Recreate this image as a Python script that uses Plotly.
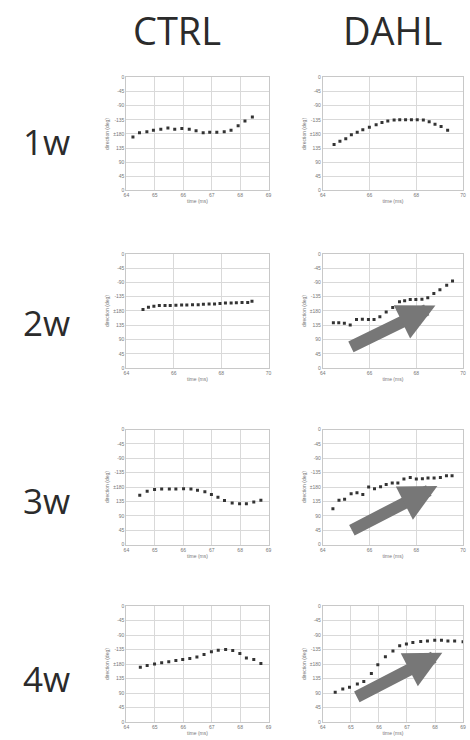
import plotly.graph_objects as go

# ---------------- data ----------------
groups = ["CTRL", "DAHL"]
weeks = ["1w", "2w", "3w", "4w"]

y_tickvals = [0, 45, 90, 135, 180, 225, 270, 315, 360]
y_ticktext = ["0", "45", "90", "135", "±180", "-135", "-90", "-45", "0"]

# 1w
ctrl_1w_t = [64.23, 64.46, 64.72, 64.95, 65.21, 65.46, 65.70, 65.95, 66.21, 66.45, 66.70, 66.93, 67.18, 67.44, 67.68, 67.93, 68.17, 68.43]
ctrl_1w_d = [170, 184, 187, 192, 195, 199, 195, 197, 195, 190, 184, 185, 185, 187, 192, 206, 221, 234]
dahl_1w_t = [64.48, 64.73, 64.98, 65.22, 65.47, 65.71, 65.99, 66.28, 66.53, 66.78, 67.05, 67.29, 67.54, 67.79, 68.04, 68.30, 68.55, 68.80, 69.06, 69.34]
dahl_1w_d = [146, 157, 165, 177, 185, 193, 201, 209, 216, 221, 224, 225, 225, 225, 225, 224, 219, 211, 204, 192]
# 2w
ctrl_2w_t = [64.70, 64.93, 65.16, 65.39, 65.63, 65.85, 66.09, 66.33, 66.55, 66.79, 67.03, 67.25, 67.49, 67.72, 67.95, 68.18, 68.42, 68.64, 68.88, 69.12, 69.30]
ctrl_2w_d = [185, 192, 195, 197, 197, 197, 198, 199, 199, 200, 200, 201, 202, 202, 204, 205, 205, 206, 207, 207, 211]
dahl_2w_t = [64.45, 64.68, 64.92, 65.17, 65.44, 65.69, 65.95, 66.19, 66.44, 66.71, 66.99, 67.28, 67.50, 67.74, 67.98, 68.24, 68.49, 68.75, 69.01, 69.30, 69.55]
dahl_2w_d = [143, 143, 141, 136, 153, 154, 153, 153, 162, 177, 191, 209, 212, 216, 216, 217, 222, 235, 247, 261, 275]
# 3w
ctrl_3w_t = [64.47, 64.73, 64.99, 65.24, 65.51, 65.74, 66.01, 66.27, 66.50, 66.76, 66.99, 67.22, 67.45, 67.72, 67.98, 68.22, 68.48, 68.73]
ctrl_3w_d = [154, 167, 172, 174, 174, 174, 175, 174, 170, 165, 157, 148, 138, 130, 128, 128, 133, 139]
dahl_3w_t = [64.43, 64.69, 64.93, 65.21, 65.46, 65.71, 65.96, 66.21, 66.47, 66.71, 66.97, 67.21, 67.47, 67.74, 68.00, 68.26, 68.50, 68.76, 69.03, 69.29, 69.53]
dahl_3w_d = [112, 139, 142, 159, 162, 157, 180, 175, 181, 188, 193, 193, 205, 210, 205, 206, 208, 208, 210, 215, 215]
# 4w
ctrl_4w_t = [64.49, 64.73, 64.99, 65.24, 65.49, 65.74, 65.98, 66.23, 66.48, 66.73, 66.99, 67.23, 67.49, 67.74, 67.99, 68.22, 68.48, 68.73]
ctrl_4w_d = [170, 176, 180, 184, 187, 191, 194, 197, 202, 210, 218, 223, 225, 222, 213, 199, 194, 182]
dahl_4w_t = [64.44, 64.71, 64.95, 65.23, 65.46, 65.73, 65.96, 66.23, 66.50, 66.74, 66.98, 67.21, 67.49, 67.73, 67.99, 68.23, 68.46, 68.70, 69.00]
dahl_4w_d = [93, 103, 108, 118, 126, 151, 178, 203, 221, 237, 242, 247, 250, 252, 254, 254, 252, 252, 249]

series = [
    (ctrl_1w_t, ctrl_1w_d), (dahl_1w_t, dahl_1w_d),
    (ctrl_2w_t, ctrl_2w_d), (dahl_2w_t, dahl_2w_d),
    (ctrl_3w_t, ctrl_3w_d), (dahl_3w_t, dahl_3w_d),
    (ctrl_4w_t, ctrl_4w_d), (dahl_4w_t, dahl_4w_d),
]
x_ranges = [
    (64, 69), (64, 70),
    (64, 70), (64, 70),
    (64, 69), (64, 70),
    (64, 69), (64, 69),
]
x_dticks = [1, 2, 2, 2, 1, 2, 1, 1]

# ---------------- layout ----------------
W, H = 470, 740
col_dom = [(125 / W, 269 / W), (324 / W, 466 / W)]
row_px = [(75, 189), (253, 368), (430, 546), (608, 725)]
row_dom = [(1 - b / H, 1 - t / H) for t, b in row_px]

fig = go.Figure()
layout = dict(
    width=W, height=H,
    margin=dict(l=0, r=0, t=0, b=0),
    paper_bgcolor="white", plot_bgcolor="white",
    showlegend=False,
    font=dict(family="Open Sans", color="#2b2b2b"),
)

small = dict(family="Arial", size=5, color="#777")
for i, (t, d) in enumerate(series):
    r, c = divmod(i, 2)
    n = i + 1
    xa = "xaxis" if n == 1 else f"xaxis{n}"
    ya = "yaxis" if n == 1 else f"yaxis{n}"
    fig.add_trace(go.Scatter(
        x=t, y=d, mode="markers",
        marker=dict(symbol="square", size=3, color="#333333"),
        xaxis=f"x{n}" if n > 1 else "x", yaxis=f"y{n}" if n > 1 else "y",
    ))
    layout[xa] = dict(
        domain=list(col_dom[c]), anchor=f"y{n}" if n > 1 else "y",
        range=list(x_ranges[i]), dtick=x_dticks[i], tick0=64,
        showgrid=True, gridcolor="#d9d9d9", gridwidth=1,
        showline=True, linecolor="#c8c8c8", mirror=True, zeroline=False,
        ticks="", tickfont=small,
        title=dict(text="time (ms)", font=small, standoff=2),
    )
    layout[ya] = dict(
        domain=list(row_dom[r]), anchor=f"x{n}" if n > 1 else "x",
        range=[0, 360], tickvals=y_tickvals, ticktext=y_ticktext,
        showgrid=True, gridcolor="#d9d9d9", gridwidth=1,
        showline=True, linecolor="#c8c8c8", mirror=True, zeroline=False,
        ticks="", tickfont=small,
        title=dict(text="direction (deg)", font=small, standoff=3),
    )

annotations = []
# column headers
for g, xc in zip(groups, [176 / W, 395 / W]):
    annotations.append(dict(text=g, x=xc, y=1 - 27 / H, xref="paper", yref="paper",
                            showarrow=False, font=dict(family="Open Sans", size=38, color="#2b2b2b"),
                            xanchor="center", yanchor="middle"))
# row labels
for wk, yc in zip(weeks, [140, 322, 502, 681]):
    annotations.append(dict(text=wk, x=44 / W, y=1 - yc / H, xref="paper", yref="paper",
                            showarrow=False, font=dict(family="Open Sans", size=35, color="#2b2b2b"),
                            xanchor="center", yanchor="middle"))
# gray trend arrows
arrow_tips = [(438, 305), (440, 487), (445, 655)]
arrow_tails = [(352, 347), (353, 532), (358, 700)]
for (hx, hy), (tx, ty) in zip(arrow_tips, arrow_tails):
    annotations.append(dict(
        x=hx / W, y=1 - hy / H, xref="paper", yref="paper",
        ax=tx - hx, ay=ty - hy, axref="pixel", ayref="pixel",
        showarrow=True, arrowhead=2, arrowsize=0.62, arrowwidth=12,
        arrowcolor="#777777", text="",
    ))
layout["annotations"] = annotations
fig.update_layout(**layout)
fig.write_html("out.html")
